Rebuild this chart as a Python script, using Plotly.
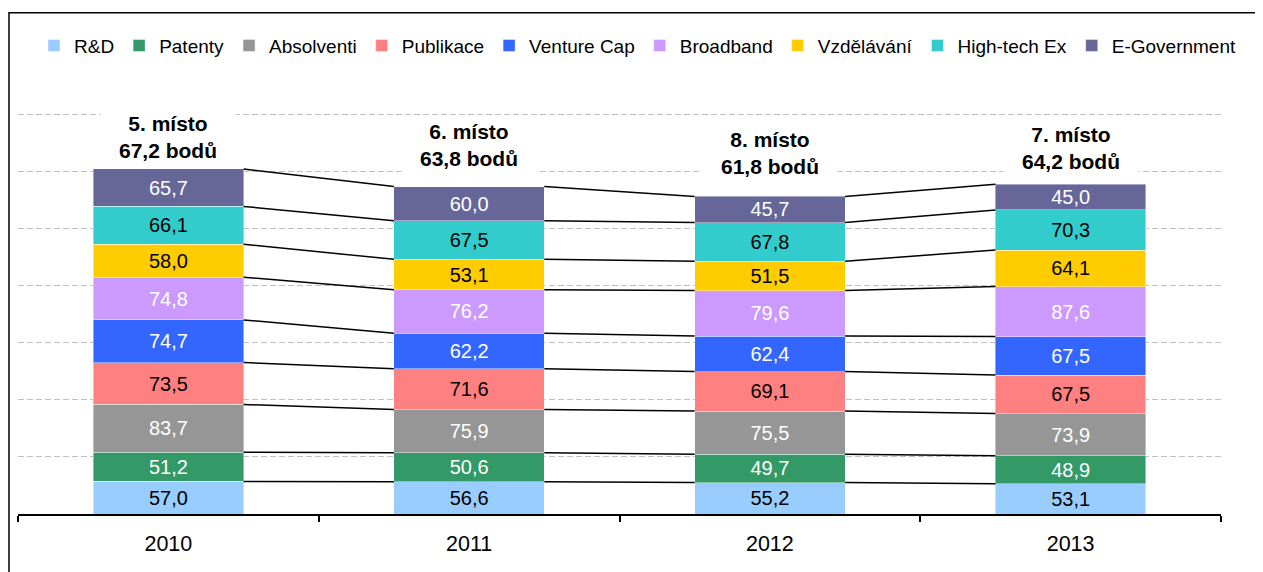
import plotly.graph_objects as go

years = ["2010", "2011", "2012", "2013"]
series_names = ["R&D", "Patenty", "Absolventi", "Publikace", "Venture Cap",
                "Broadband", "Vzdělávání", "High-tech Ex", "E-Government"]
rd = [57.0, 56.6, 55.2, 53.1]
patenty = [51.2, 50.6, 49.7, 48.9]
absolventi = [83.7, 75.9, 75.5, 73.9]
publikace = [73.5, 71.6, 69.1, 67.5]
venture_cap = [74.7, 62.2, 62.4, 67.5]
broadband = [74.8, 76.2, 79.6, 87.6]
vzdelavani = [58.0, 53.1, 51.5, 64.1]
hightech = [66.1, 67.5, 67.8, 70.3]
egov = [65.7, 60.0, 45.7, 45.0]
ranks = [5, 6, 8, 7]
points = [67.2, 63.8, 61.8, 64.2]

series_values = [rd, patenty, absolventi, publikace, venture_cap,
                 broadband, vzdelavani, hightech, egov]
colors = ["#99CCFF", "#339966", "#969696", "#FF8080", "#3366FF",
          "#CC99FF", "#FFCC00", "#33CCCC", "#666699"]
label_colors = ["black", "white", "white", "black", "white",
                "white", "black", "black", "white"]

FONT = "Liberation Sans, Arial, sans-serif"
OFF = 8  # page body margin
W, H = 1263 - OFF, 572 - OFF
L, R, T, B = 18 - OFF, 1263 - 1221, 85.5 - OFF, 572 - 514.5
plot_h = H - T - B
plot_w = W - L - R


def px_to_paper_y(py):
    # py: pixel in page coordinates
    return (H - B - (py - OFF)) / plot_h


def px_to_paper_x(px):
    return (px - OFF - L) / plot_w


def fmt(v):
    return f"{v:.1f}".replace(".", ",")


fig = go.Figure()
for name, vals, col, lc in zip(series_names, series_values, colors, label_colors):
    fig.add_trace(go.Bar(
        x=years, y=vals, name=name, width=0.5,
        marker=dict(color=col, line=dict(color="rgba(255,255,255,0.6)", width=0.7)),
        text=[fmt(v) for v in vals], textposition="inside",
        insidetextanchor="middle",
        textfont=dict(family=FONT, size=20, color=lc),
        hoverinfo="skip",
    ))

# cumulative tops for series lines
cum = []
running = [0.0] * len(years)
for vals in series_values:
    running = [a + b for a, b in zip(running, vals)]
    cum.append(list(running))

shapes = []
for tops in cum:
    for i in range(len(years) - 1):
        shapes.append(dict(type="line", xref="x", yref="y",
                           x0=i + 0.25, y0=tops[i], x1=i + 0.75, y1=tops[i + 1],
                           line=dict(color="black", width=1.5), layer="above"))

# outer frame
shapes.append(dict(type="rect", xref="paper", yref="paper",
                   x0=px_to_paper_x(9), x1=px_to_paper_x(1300),
                   y0=px_to_paper_y(600), y1=px_to_paper_y(12),
                   line=dict(color="black", width=1.5), fillcolor="rgba(0,0,0,0)",
                   layer="below"))

totals = cum[-1]
ann_shift = [4, 14, 15, 8]
annotations = []
for i, yr in enumerate(years):
    annotations.append(dict(
        x=i, y=totals[i], xref="x", yref="y",
        text=f"<b>{ranks[i]}. místo<br>{fmt(points[i])} bodů</b>",
        showarrow=False, yanchor="bottom", xanchor="center",
        yshift=ann_shift[i], width=130, borderpad=2,
        bgcolor="white", font=dict(family=FONT, size=21, color="black"),
    ))

fig.update_layout(
    width=W, height=H,
    margin=dict(l=L, r=R, t=T, b=B, pad=0),
    barmode="stack",
    plot_bgcolor="white", paper_bgcolor="white",
    font=dict(family=FONT, size=19, color="black"),
    showlegend=True,
    legend=dict(orientation="h", traceorder="normal",
                x=px_to_paper_x(34), xanchor="left",
                y=px_to_paper_y(45), yanchor="middle",
                font=dict(family=FONT, size=19, color="black"),
                bgcolor="rgba(0,0,0,0)"),
    shapes=shapes,
    annotations=annotations,
    uniformtext=dict(minsize=20, mode="show"),
)
fig.update_xaxes(type="category", tickson="boundaries", ticks="outside",
                 ticklen=6, tickcolor="black", tickwidth=1.5,
                 showline=True, linecolor="black", linewidth=1.5,
                 showgrid=False, tickfont=dict(family=FONT, size=21.5, color="black"),
                 ticklabelstandoff=9, range=[-0.5, 3.5])
fig.update_yaxes(range=[0, 750], dtick=100, showgrid=True, gridcolor="#C0C0C0",
                 griddash="6px,3px", gridwidth=1, showticklabels=False,
                 zeroline=False, showline=False, ticks="")

fig.write_html("out.html")
